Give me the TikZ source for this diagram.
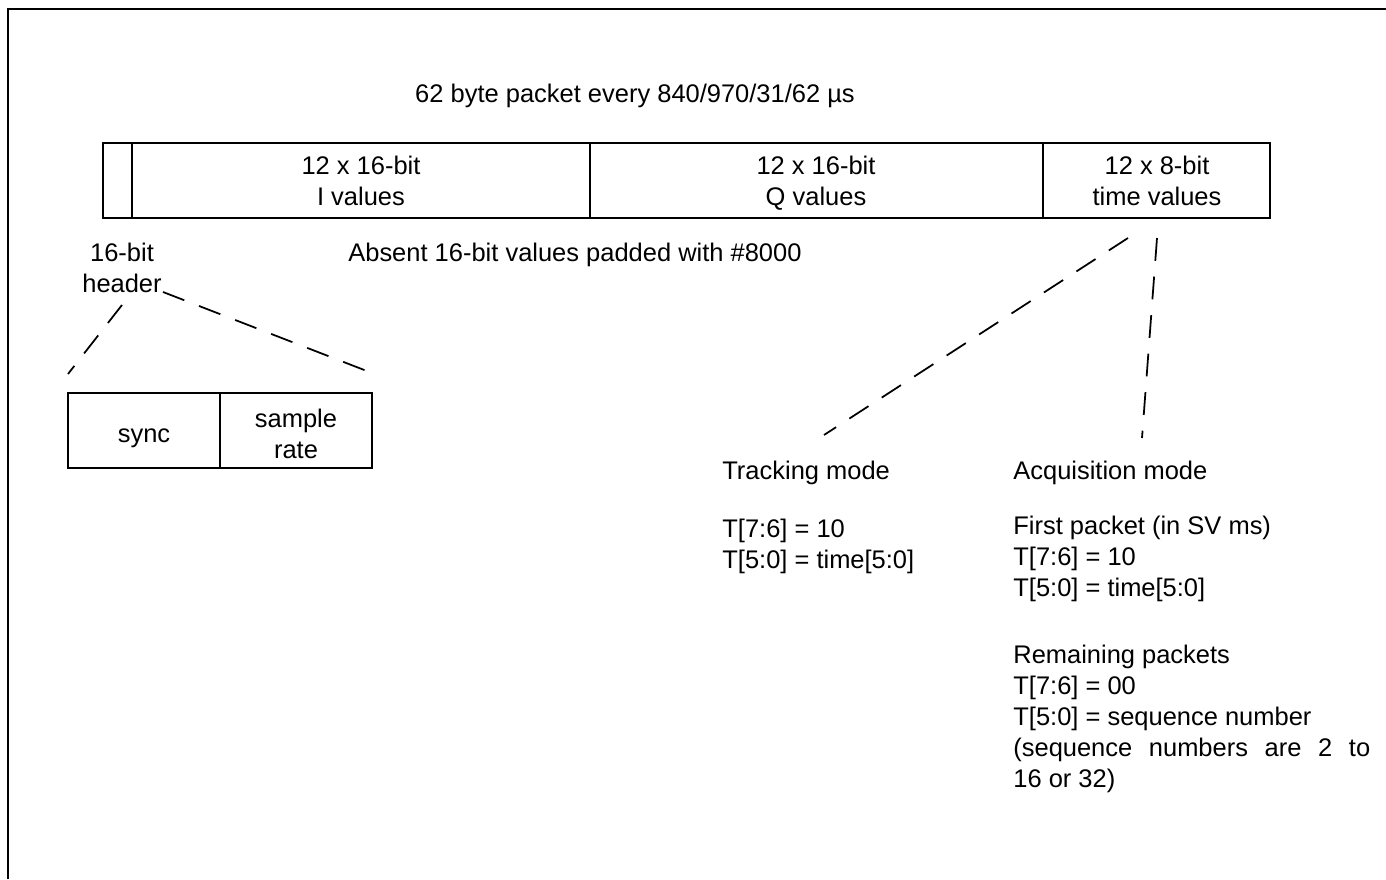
\documentclass[tikz,border=0pt]{standalone}
\usepackage{fontspec}
\setmainfont{Liberation Sans}
\begin{document}
\begin{tikzpicture}[x=0.02cm,y=-0.02cm,
		txt/.style={font=\fontsize{14.5}{17.6}\selectfont, inner sep=0pt},
		lbl/.style={txt, align=center, anchor=base},
		para/.style={txt, align=left, anchor=base west},
		field/.style={draw, line width=1.1pt},
		fan/.style={line width=1pt, dash pattern=on 13pt off 9pt}
		]
		
		\useasboundingbox (0,0) rectangle (1386,879);
		\draw[line width=1.3pt] (8,879) coordinate (f0) -- (8,9) coordinate (f1) -- (1386,9) coordinate (f2);
		
		\node[txt, anchor=base] (title) at (635,102) {62 byte packet every 840/970/31/62 µs};
		
		% packet
		\draw[field] (103,143) coordinate (p1) rectangle (1270,218) coordinate (p2);
		\draw[field] (132,143) -- (132,218)
		(590,143) -- (590,218)
		(1043,143) -- (1043,218);
		\node[lbl] (ival) at (361,205) {12 x 16-bit\\I values};
		\node[lbl] (qval) at (816,205) {12 x 16-bit\\Q values};
		\node[lbl] (tval) at (1157,205) {12 x 8-bit\\time values};
		
		\node[lbl] (hdr) at (122,292) {16-bit\\header};
		\node[para] (absent) at (348,261) {Absent 16-bit values padded with \#8000};
		
		% header
		\draw[field] (68,393) coordinate (h1) rectangle (372,468) coordinate (h2);
		\draw[field] (220,393) -- (220,468);
		\node[lbl] (sync) at (144,442) {sync};
		\node[lbl] (rate) at (296,458) {sample\\rate};
		
		\coordinate (hl) at (122,305);
		\coordinate (hr) at (163,292);
		\draw[fan] (hl) -- (68,374);
		\draw[fan] (hr) -- (372,373);
		
		% time values
		\coordinate (tl) at (1128,238);
		\coordinate (tr) at (1157,238);
		\draw[fan] (tl) -- (824,435) coordinate (trk);
		\draw[fan] (tr) -- (1142,438) coordinate (acq);
		
		\node[para] (tmode) at (722,479) {Tracking mode};
		\node[para] (tbits) at (722,568) {T[7:6] = 10\\T[5:0] = time[5:0]};
		
		\node[para] (amode) at (1013,479) {Acquisition mode};
		\node[para] (first) at (1013,596) {First packet (in SV ms)\\T[7:6] = 10\\T[5:0] = time[5:0]};
		\node[para] (rest) at (1013,787) {Remaining packets\\T[7:6] = 00\\T[5:0] = sequence number\\
			\makebox[7.14cm][s]{(sequence numbers are 2 to}\\16 or 32)};
		
\end{tikzpicture}
\end{document}
